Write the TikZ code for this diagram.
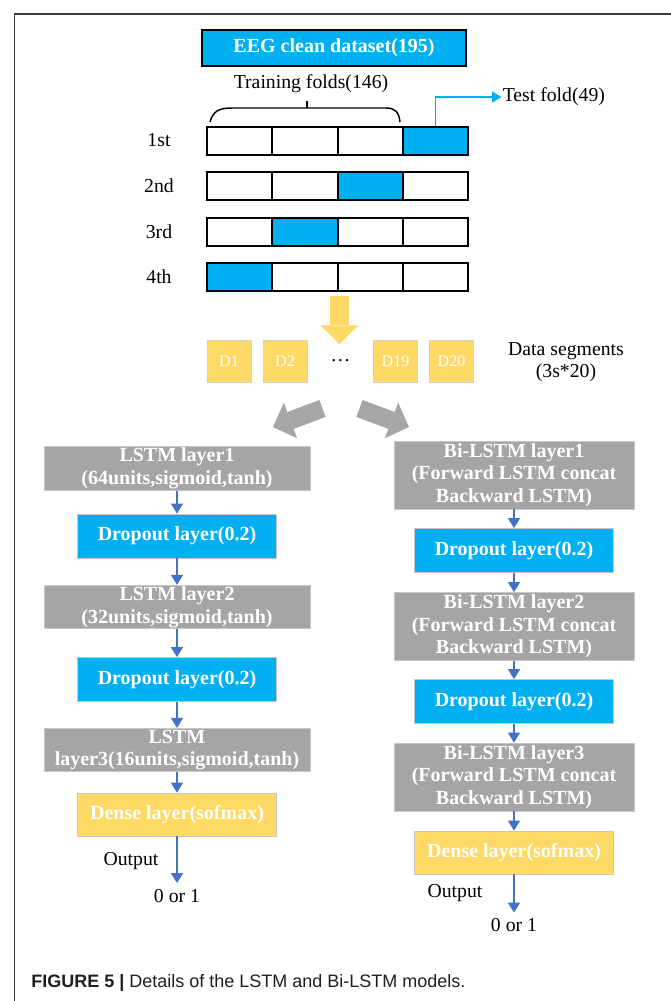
\documentclass[tikz,border=0pt]{standalone}
\usepackage{fontspec}
\setmainfont{Liberation Serif}
\newfontfamily\capfont{Liberation Sans}
\usetikzlibrary{arrows.meta}

\definecolor{cyanfill}{HTML}{00B0F0}
\definecolor{greyfill}{HTML}{A5A5A5}
\definecolor{goldfill}{HTML}{FFD966}
\definecolor{flowblue}{HTML}{4472C4}
\definecolor{fatgrey}{HTML}{A6A6A6}
\definecolor{framegrey}{HTML}{3A3A3A}

\begin{document}
\begin{tikzpicture}[x=0.75pt,y=0.75pt,yscale=-1,xscale=1,
  layer/.style={draw=black!22,line width=0.6pt,text=white,inner sep=0pt,align=center,
    font=\fontsize{15}{17}\selectfont\bfseries},
  lstmbox/.style={layer,fill=greyfill,minimum width=199.5pt,minimum height=32.6pt},
  bibox/.style={layer,fill=greyfill,minimum width=180pt,minimum height=51pt},
  dropbox/.style={layer,fill=cyanfill,minimum width=149.25pt,minimum height=33pt},
  densebox/.style={layer,fill=goldfill,minimum width=149.25pt,minimum height=32.25pt},
  segbox/.style={draw=black!18,line width=0.6pt,fill=goldfill,text=white,inner sep=0pt,
    font=\fontsize{12}{14}\selectfont,minimum width=33pt,minimum height=31.5pt},
  foldcell/.style={draw=black,line width=1.5pt,inner sep=0pt,minimum width=48.9pt,minimum height=21pt},
  plain/.style={inner sep=0.75pt,align=center,font=\fontsize{14.8}{16.5}\selectfont},
  flow/.style={flowblue,line width=1.1pt,-{Triangle[length=7.5pt,width=9pt]}},
  fatarrow/.style={draw=#1,-{Triangle[length=14pt,width=28.5pt,line width=0pt,fill=#1]}}
]
\useasboundingbox (0,0) rectangle (671,1001);

%Shape: Frame
\draw[framegrey,line width=1.1pt] (671,14) -- (14.5,14) -- (14.5,1001);

% Text Node
\node[draw=black,line width=1.5pt,fill=cyanfill,text=white,inner sep=0pt,
  minimum width=198pt,minimum height=27pt,font=\fontsize{15}{17}\selectfont\bfseries] (eeg) at (334,48) {EEG clean dataset(195)};
\node[plain] (trainlab) at (311,84) {Training folds(146)};

%Shape: Folds
\foreach \r/\t/\lab in {1/4/1st,2/3/2nd,3/2/3rd,4/1/4th}{
  \node[plain] (lab\r) at (159,{140.5+45.5*(\r-1)}) {\lab};
  \foreach \c in {1,...,4}{
    \ifnum\c=\t \def\cellfill{cyanfill}\else\def\cellfill{white}\fi
    \node[foldcell,fill=\cellfill] (f\r c\c) at ({174.4+65.25*\c},{140.5+45.5*(\r-1)}) {};
  }
}

%Shape: Brace
\draw[line width=1.1pt] (210,122) .. controls (213,111) and (219,108) .. (232,108) -- (386,108) .. controls (395,108) and (399,112) .. (400,122);
\draw[line width=1.1pt] (307,108) -- (307,100.5);

% Text Node
\node[plain,anchor=west] (testlab) at (501.5,97) {Test fold(49)};
\draw[cyanfill,line width=1.1pt,-{Triangle[length=7pt,width=8pt]}] (f1c4.north) |- (testlab.west);

%Shape: Split arrow
\coordinate (splitin) at (339.5,296);
\coordinate (splitout) at (339.5,344);
\draw[fatarrow=goldfill,line width=14.25pt] (splitin) -- (splitout);

%Shape: Segments
\node[segbox] (seg1) at (229,361) {D1};
\node[segbox] (seg2) at (285,361) {D2};
\node[plain] (segdots) at (340.5,361) {\ldots};
\node[segbox] (seg19) at (395.5,361) {D19};
\node[segbox] (seg20) at (451.5,361) {D20};
\node[plain] (seglab) at (566,362) {Data segments\\(3s*20)};

%Shape: Branch arrows
\coordinate (lstmsrc) at (322.5,408.5);
\coordinate (lstmdst) at (273,427);
\coordinate (bisrc) at (359.5,408.5);
\coordinate (bidst) at (409,427);
\draw[fatarrow=fatgrey,line width=13.5pt] (lstmsrc) -- (lstmdst);
\draw[fatarrow=fatgrey,line width=13.5pt] (bisrc) -- (bidst);

% LSTM model
\node[lstmbox] (lstm1) at (177,468.5) {LSTM layer1\\(64units,sigmoid,tanh)};
\node[dropbox] (ldrop1) at (177,536) {Dropout layer(0.2)};
\node[lstmbox] (lstm2) at (177,607) {LSTM layer2\\(32units,sigmoid,tanh)};
\node[dropbox] (ldrop2) at (177,679.5) {Dropout layer(0.2)};
\node[lstmbox] (lstm3) at (177,750) {LSTM\\layer3(16units,sigmoid,tanh)};
\node[densebox] (ldense) at (177,814.5) {Dense layer(sofmax)};
\node[plain] (lout) at (177,896) {0 or 1};
\node[plain] (loutlab) at (131,861) {Output};

\draw[flow] (lstm1) -- (ldrop1);
\draw[flow] (ldrop1) -- (lstm2);
\draw[flow] (lstm2) -- (ldrop2);
\draw[flow] (ldrop2) -- (lstm3);
\draw[flow] (lstm3) -- (ldense);
\draw[flow,shorten >=3.75pt] (ldense) -- (lout);

% Bi-LSTM model
\node[bibox] (bi1) at (514,475) {Bi-LSTM layer1\\(Forward LSTM concat\\Backward LSTM)};
\node[dropbox] (rdrop1) at (514,550.5) {Dropout layer(0.2)};
\node[bibox] (bi2) at (514,626.5) {Bi-LSTM layer2\\(Forward LSTM concat\\Backward LSTM)};
\node[dropbox] (rdrop2) at (514,701.5) {Dropout layer(0.2)};
\node[bibox] (bi3) at (514,777) {Bi-LSTM layer3\\(Forward LSTM concat\\Backward LSTM)};
\node[densebox] (rdense) at (514,852.5) {Dense layer(sofmax)};
\node[plain] (rout) at (514,925.5) {0 or 1};
\node[plain] (routlab) at (455,893) {Output};

\draw[flow] (bi1) -- (rdrop1);
\draw[flow] (rdrop1) -- (bi2);
\draw[flow] (bi2) -- (rdrop2);
\draw[flow] (rdrop2) -- (bi3);
\draw[flow] (bi3) -- (rdense);
\draw[flow,shorten >=3.75pt] (rdense) -- (rout);

% Caption
\node[anchor=west,inner sep=0pt,text=black!88,font=\capfont\fontsize{13.5}{16}\selectfont] (caption) at (31,983)
  {\textbf{FIGURE 5 |} Details of the LSTM and Bi-LSTM models.};

\end{tikzpicture}
\end{document}
